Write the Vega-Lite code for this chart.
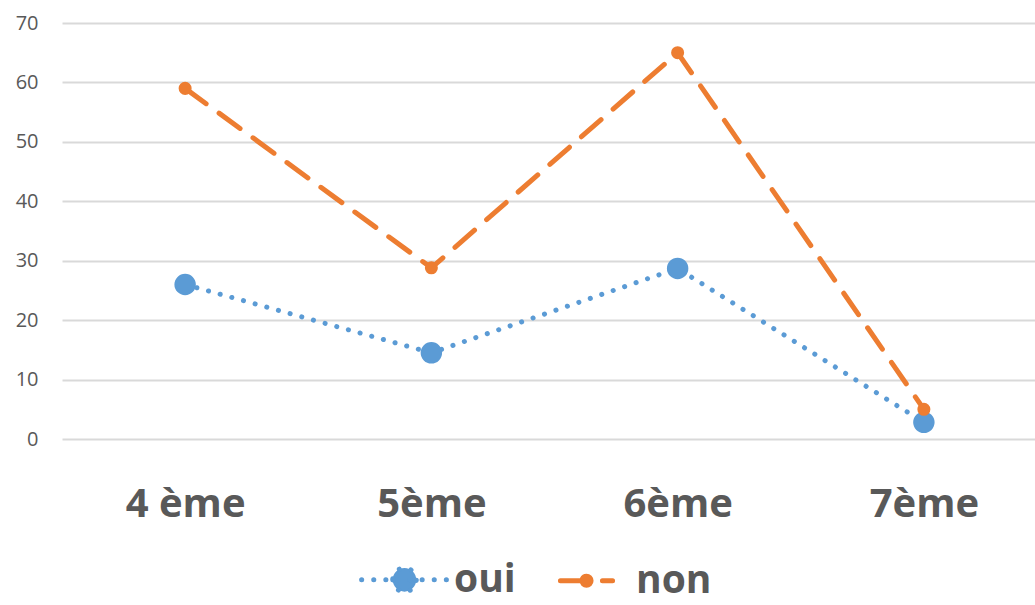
{
  "$schema": "https://vega.github.io/schema/vega-lite/v6.json",
  "autosize": {"type": "none"},
  "width": 985,
  "height": 416,
  "padding": {"left": 62, "top": 23, "right": 0, "bottom": 166},
  "background": "white",
  "config": {
    "view": {"stroke": null},
    "font": "Open Sans",
    "axis": {"labelColor": "#595959", "domain": false, "ticks": false, "title": null}
  },
  "data": {
    "values": [
      {"niveau": "4 ème", "serie": "oui", "valeur": 26},
      {"niveau": "5ème", "serie": "oui", "valeur": 14.5},
      {"niveau": "6ème", "serie": "oui", "valeur": 28.7},
      {"niveau": "7ème", "serie": "oui", "valeur": 2.8},
      {"niveau": "4 ème", "serie": "non", "valeur": 59},
      {"niveau": "5ème", "serie": "non", "valeur": 28.8},
      {"niveau": "6ème", "serie": "non", "valeur": 65},
      {"niveau": "7ème", "serie": "non", "valeur": 5}
    ]
  },
  "encoding": {
    "x": {
      "field": "niveau", "type": "nominal", "sort": null,
      "scale": {"type": "point", "padding": 0.5},
      "axis": {"labelAngle": 0, "labelFontSize": 40, "labelFontWeight": "bold", "labelPadding": 45, "grid": false}
    },
    "y": {
      "field": "valeur", "type": "quantitative",
      "scale": {"domain": [0, 70]},
      "axis": {"values": [0, 10, 20, 30, 40, 50, 60, 70], "labelFontSize": 20, "labelPadding": 24, "grid": true, "gridColor": "#d9d9d9", "gridWidth": 2}
    },
    "color": {
      "field": "serie", "type": "nominal", "sort": ["oui", "non"],
      "scale": {"domain": ["oui", "non"], "range": ["#5B9BD5", "#ED7D31"]},
      "legend": {
        "title": null, "orient": "none", "direction": "horizontal",
        "legendX": 323, "legendY": 537,
        "labelFontSize": 39, "labelFontWeight": "bold", "labelColor": "#595959",
        "columnPadding": 34, "labelOffset": 30,
        "encode": {
          "symbols": {
            "update": {
              "size": {"value": 6400},
              "strokeWidth": {"value": 5},
              "shape": [
                {"test": "datum.value === 'oui'", "value": "M-4,0L4,0M-1.1,0A1.1,1.1 0 1,0 1.1,0A1.1,1.1 0 1,0 -1.1,0"},
                {"value": "M-4,0L4,0M-0.7,0A0.7,0.7 0 1,0 0.7,0A0.7,0.7 0 1,0 -0.7,0"}
              ],
              "strokeDash": [
                {"test": "datum.value === 'oui'", "value": [0.1, 18.5]},
                {"value": [30, 20]}
              ],
              "strokeCap": {"value": "round"},
              "fill": [
                {"test": "datum.value === 'oui'", "value": "#5B9BD5"},
                {"value": "#ED7D31"}
              ],
              "fillOpacity": {"value": 1}
            }
          }
        }
      }
    }
  },
  "layer": [
    {
      "mark": {"type": "line", "strokeWidth": 5, "strokeCap": "round"},
      "encoding": {
        "strokeDash": {
          "field": "serie", "type": "nominal", "sort": ["oui", "non"],
          "scale": {"domain": ["oui", "non"], "range": [[0.1, 12], [26, 16]]},
          "legend": null
        }
      }
    },
    {
      "mark": {"type": "circle", "opacity": 1},
      "encoding": {
        "size": {
          "field": "serie", "type": "nominal",
          "scale": {"domain": ["oui", "non"], "range": [460, 170]},
          "legend": null
        }
      }
    }
  ]
}
